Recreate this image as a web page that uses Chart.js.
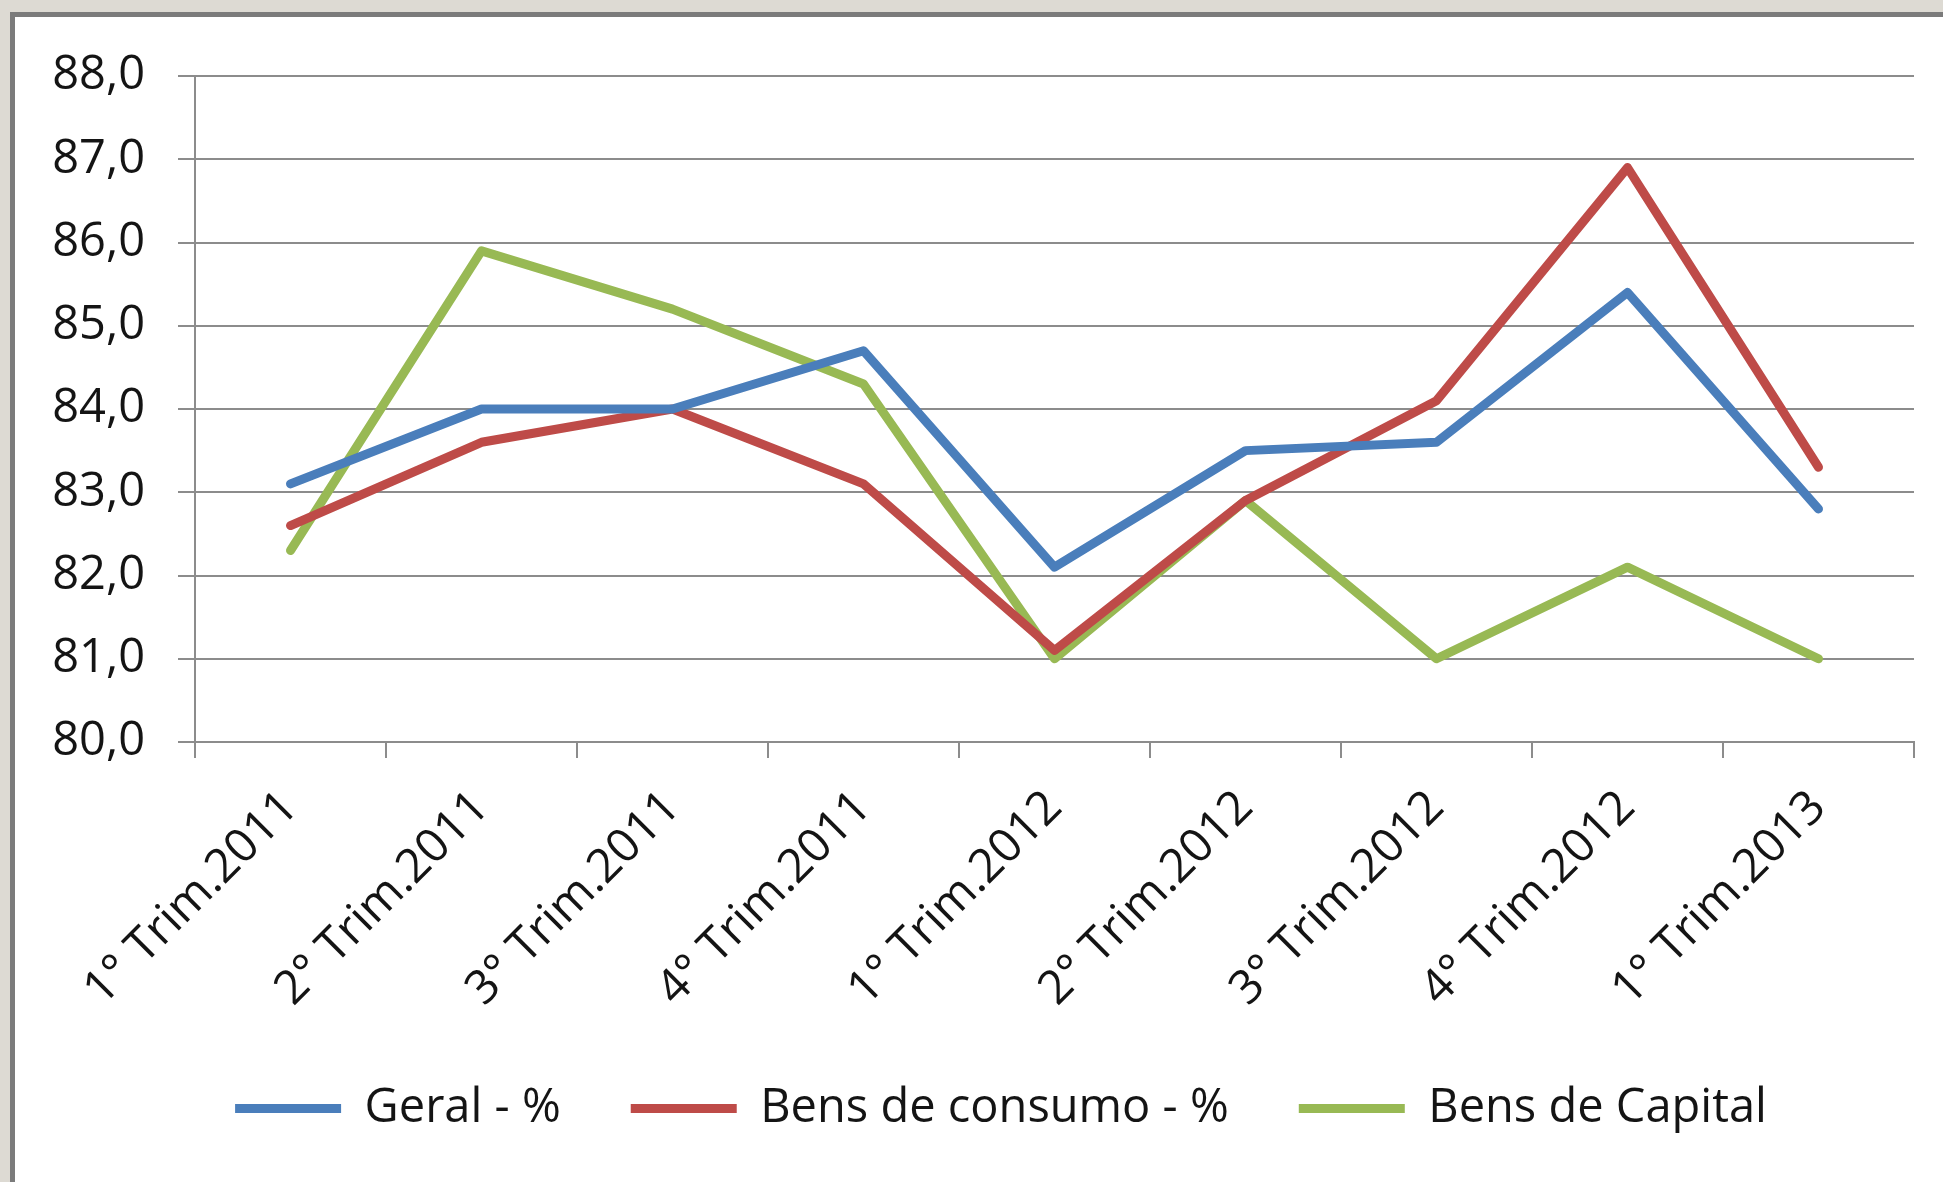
<!DOCTYPE html>
<html>
<head>
<meta charset="utf-8">
<script src="https://cdn.jsdelivr.net/npm/chart.js@4/dist/chart.umd.min.js"></script>
<style>
    html, body { margin: 0; padding: 0; overflow: hidden; }
    body { width: 1943px; height: 1182px; background: #dddad3; position: relative; }
    #moldura {
        position: absolute; left: 10px; top: 12px;
        width: 2000px; height: 1300px;
        background: #fff; border: 5px solid #7b7b7b;
    }
    #area { position: absolute; left: 0; top: 0; width: 1943px; height: 1182px; }
</style>
</head>
<body>
<div id="moldura"></div>
<div id="area"><canvas id="grafico" width="1943" height="1182"></canvas></div>
<script>
"use strict";

// trimestres
var trimestres = ["1° Trim.2011", "2° Trim.2011", "3° Trim.2011", "4° Trim.2011",
    "1° Trim.2012", "2° Trim.2012", "3° Trim.2012", "4° Trim.2012", "1° Trim.2013"];

// series (%)
var geral = [83.1, 84.0, 84.0, 84.7, 82.1, 83.5, 83.6, 85.4, 82.8];
var bensConsumo = [82.6, 83.6, 84.0, 83.1, 81.1, 82.9, 84.1, 86.9, 83.3];
var bensCapital = [82.3, 85.9, 85.2, 84.3, 81.0, 82.9, 81.0, 82.1, 81.0];

// eixo y
var eixoMin = 80;
var eixoMax = 88;
var eixoPasso = 1;

var fonte = "Open Sans";
var tamFonte = 47;
var corGrade = "#8c8c8c";
var corTexto = "#141414";

function serie(nome, dados, cor) {
    return {
        label: nome,
        data: dados,
        borderColor: cor,
        backgroundColor: cor,
        borderWidth: 9,
        borderCapStyle: "round",
        borderJoinStyle: "round",
        pointRadius: 0,
        pointHoverRadius: 0,
        tension: 0,
        fill: false
    };
}

// desloca a legenda um pouco para a direita, como no original
var moveLegenda = {
    id: "moveLegenda",
    afterLayout: function (chart) {
        chart.legend.left += 24;
        chart.legend.right += 24;
    }
};

var chart = new Chart("grafico", {
    type: "line",
    data: {
        labels: trimestres,
        datasets: [
            serie("Geral - %", geral, "#4a7ebb"),
            serie("Bens de consumo - %", bensConsumo, "#be4b48"),
            serie("Bens de Capital", bensCapital, "#98b954")
        ]
    },
    plugins: [moveLegenda],
    options: {
        responsive: false,
        animation: false,
        events: [],
        layout: {
            padding: { left: 40, right: 29, top: 76, bottom: 40 }
        },
        plugins: {
            tooltip: { enabled: false },
            legend: {
                position: "bottom",
                labels: {
                    usePointStyle: true,
                    pointStyle: "line",
                    pointStyleWidth: 106,
                    padding: 70,
                    color: corTexto,
                    font: { family: fonte, size: tamFonte }
                }
            }
        },
        scales: {
            x: {
                offset: true,
                grid: {
                    offset: true,
                    drawOnChartArea: false,
                    color: corGrade,
                    lineWidth: 2,
                    tickLength: 16
                },
                border: { color: corGrade, width: 2 },
                ticks: {
                    minRotation: 45,
                    maxRotation: 45,
                    padding: 22,
                    color: corTexto,
                    font: { family: fonte, size: tamFonte }
                },
                afterFit: function (s) { s.height = 273; }
            },
            y: {
                min: eixoMin,
                max: eixoMax,
                grid: {
                    color: corGrade,
                    lineWidth: 2,
                    tickLength: 17
                },
                border: { color: corGrade, width: 2 },
                ticks: {
                    stepSize: eixoPasso,
                    padding: 33,
                    color: corTexto,
                    font: { family: fonte, size: tamFonte },
                    callback: function (v) { return v.toFixed(1).replace(".", ","); }
                },
                afterFit: function (s) { s.width = 155; }
            }
        }
    }
});
</script>
</body>
</html>
